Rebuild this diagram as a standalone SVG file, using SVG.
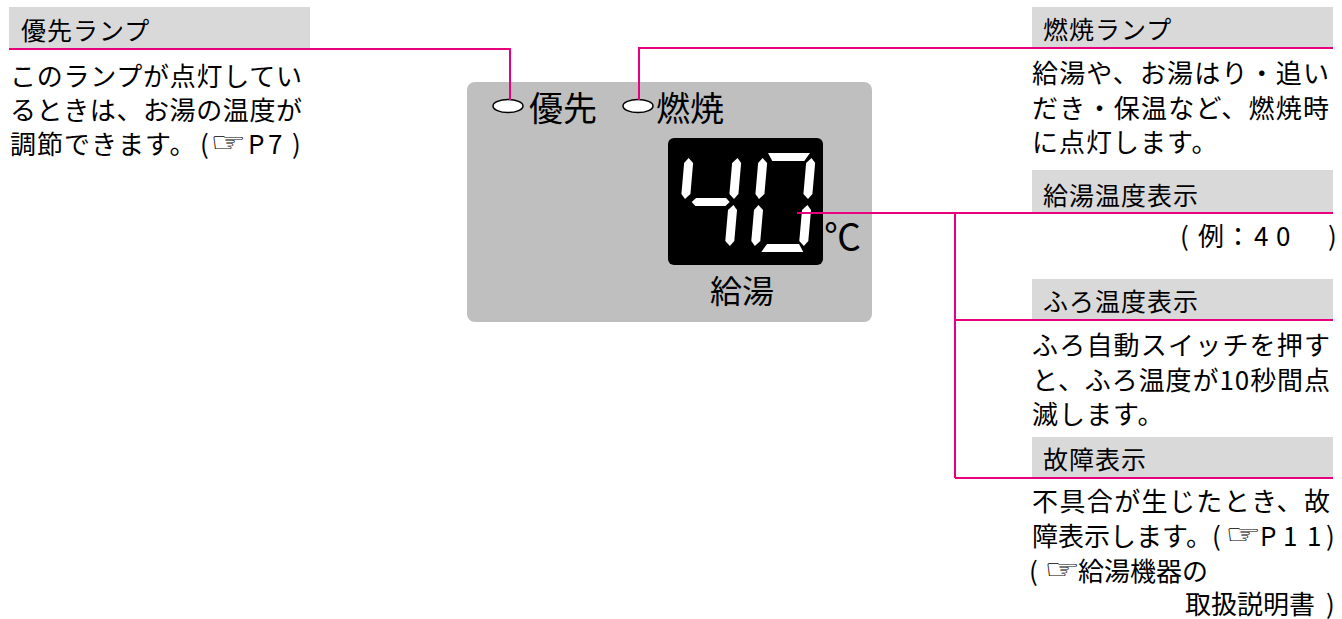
<svg xmlns="http://www.w3.org/2000/svg" width="1342" height="619" viewBox="0 0 1342 619">
<style>
text{font-family:"Noto Sans CJK JP","Noto Sans",sans-serif;fill:#000}
.hd{font-size:25px;letter-spacing:1px}
.bd{font-size:26px;letter-spacing:0}
.pt{font-family:"DejaVu Sans",sans-serif;font-size:28px}
.hbox{fill:#d9d9d9}
.ln{fill:none;stroke:#e6007e;stroke-width:2}
.seg{fill:#fff}
.lamp{fill:#fff;stroke:#000;stroke-width:1.5}
.pl{font-size:34px;letter-spacing:0}
</style>
<rect width="1342" height="619" fill="#fff"/>

<g id="panel">
<rect x="467" y="82" width="405" height="240" rx="8" fill="#bfbfbf"/>
<ellipse class="lamp" cx="508" cy="106" rx="15" ry="6.5"/>
<text class="pl" x="529" y="121">優先</text>
<ellipse class="lamp" cx="638" cy="106" rx="15" ry="6.5"/>
<text class="pl" x="656" y="121">燃焼</text>
<rect x="668" y="138" width="155" height="127" rx="6" fill="#000"/>
<g transform="translate(685,153) skewX(-5)">
<polygon class="seg" points="4,5 9,10 9,41 4,46 0,41 0,10"/>
<polygon class="seg" points="53,5 57,10 57,41 53,46 48,41 48,10"/>
<polygon class="seg" points="11,49 15,45 45,45 49,49 45,53 15,53"/>
<polygon class="seg" points="53,52 57,57 57,88 53,93 48,88 48,57"/>
</g>
<g transform="translate(759,153) skewX(-5)">
<polygon class="seg" points="9,0 51,0 46,8 14,8"/>
<polygon class="seg" points="4,5 9,10 9,41 4,46 0,41 0,10"/>
<polygon class="seg" points="53,5 57,10 57,41 53,46 48,41 48,10"/>
<polygon class="seg" points="4,52 9,57 9,88 4,93 0,88 0,57"/>
<polygon class="seg" points="53,52 57,57 57,88 53,93 48,88 48,57"/>
<polygon class="seg" points="16,91 48,91 53,99 11,99"/>
</g>
<text x="824" y="251" style="font-size:37px">℃</text>
<text class="pl" x="710" y="303" style="font-size:32px">給湯</text>
</g>

<g id="connectors">
<path class="ln" d="M9,49 H510 V100"/>
<path class="ln" d="M639,100 V48 H1333"/>
<path class="ln" d="M797,213 H1333"/>
<path class="ln" d="M955,213 V478"/>
<path class="ln" d="M955,320 H1333"/>
<path class="ln" d="M955,478 H1333"/>
</g>

<g id="yusen-lamp">
<rect class="hbox" x="9" y="7" width="301" height="41"/>
<text class="hd" x="21" y="40">優先ランプ</text>
<text class="bd" x="10" y="86" textLength="292" lengthAdjust="spacing">このランプが点灯してい</text>
<text class="bd" x="10" y="120" textLength="292" lengthAdjust="spacing">るときは、お湯の温度が</text>
<text class="bd" y="154"><tspan x="10" style="letter-spacing:1px">調節できます。</tspan><tspan x="200">(</tspan><tspan x="248">P</tspan><tspan x="268">7</tspan><tspan x="292">)</tspan></text>
<text class="pt" transform="translate(210,152) scale(1.45,1)">☞</text>
</g>

<g id="nensho-lamp">
<rect class="hbox" x="1032" y="7" width="301" height="40"/>
<text class="hd" x="1043" y="39">燃焼ランプ</text>
<text class="bd" x="1032" y="83" textLength="297" lengthAdjust="spacing">給湯や、お湯はり・追い</text>
<text class="bd" x="1032" y="118" textLength="297" lengthAdjust="spacing">だき・保温など、燃焼時</text>
<text class="bd" x="1032" y="152" style="letter-spacing:1px">に点灯します。</text>
</g>

<g id="kyuto-ondo">
<rect class="hbox" x="1032" y="170" width="301" height="42"/>
<text class="hd" x="1043" y="205">給湯温度表示</text>
<text class="bd" y="246"><tspan x="1180">(</tspan><tspan x="1198">例</tspan><tspan x="1225">：</tspan><tspan x="1254">4</tspan><tspan x="1276">0</tspan><tspan x="1328">)</tspan></text>
</g>

<g id="furo-ondo">
<rect class="hbox" x="1032" y="279" width="301" height="40"/>
<text class="hd" x="1043" y="311">ふろ温度表示</text>
<text class="bd" x="1032" y="355" textLength="298" lengthAdjust="spacing">ふろ自動スイッチを押す</text>
<text class="bd" x="1032" y="390" textLength="298" lengthAdjust="spacing">と、ふろ温度が10秒間点</text>
<text class="bd" x="1032" y="424" style="letter-spacing:1px">滅します。</text>
</g>

<g id="kosho">
<rect class="hbox" x="1032" y="437" width="301" height="40"/>
<text class="hd" x="1043" y="469">故障表示</text>
<text class="bd" x="1032" y="511" textLength="298" lengthAdjust="spacing">不具合が生じたとき、故</text>
<text class="bd" y="546"><tspan x="1032">障表示します</tspan><tspan x="1186">。</tspan><tspan x="1212">(</tspan><tspan x="1260">P</tspan><tspan x="1283">1</tspan><tspan x="1307">1</tspan><tspan x="1326">)</tspan></text>
<text class="pt" transform="translate(1225,544) scale(1.45,1)">☞</text>
<text class="bd" y="581"><tspan x="1029">(</tspan><tspan x="1078">給湯機器の</tspan></text>
<text class="pt" transform="translate(1044,579) scale(1.45,1)">☞</text>
<text class="bd" y="614"><tspan x="1185">取扱説明書</tspan><tspan x="1326">)</tspan></text>
</g>
</svg>
